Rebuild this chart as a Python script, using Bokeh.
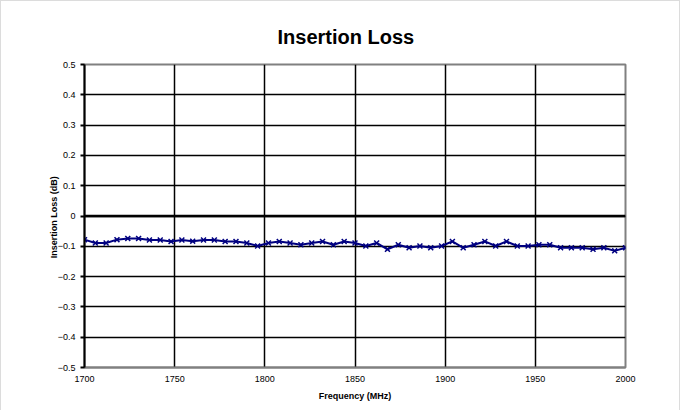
from bokeh.plotting import figure
from bokeh.models import Range1d, FixedTicker, Span
from bokeh.embed import file_html
from bokeh.resources import INLINE

freq_mhz = [1700, 1706, 1712, 1718, 1724, 1730, 1736, 1742, 1748, 1754,
            1760, 1766, 1772, 1778, 1784, 1790, 1796, 1802, 1808, 1814,
            1820, 1826, 1832, 1838, 1844, 1850, 1856, 1862, 1868, 1874,
            1880, 1886, 1892, 1898, 1904, 1910, 1916, 1922, 1928, 1934,
            1940, 1946, 1952, 1958, 1964, 1970, 1976, 1982, 1988, 1994, 2000]
insertion_loss_db = [-0.078, -0.089, -0.089, -0.078, -0.074, -0.074, -0.079, -0.079, -0.084, -0.079,
                     -0.083, -0.079, -0.079, -0.084, -0.084, -0.089, -0.099, -0.089, -0.084, -0.089,
                     -0.095, -0.089, -0.084, -0.095, -0.084, -0.089, -0.099, -0.089, -0.110, -0.095,
                     -0.105, -0.099, -0.105, -0.099, -0.084, -0.105, -0.095, -0.084, -0.099, -0.084,
                     -0.099, -0.099, -0.095, -0.095, -0.105, -0.105, -0.105, -0.110, -0.105, -0.115, -0.105]
x_ticks = [1700, 1750, 1800, 1850, 1900, 1950, 2000]
y_ticks = [-0.5, -0.4, -0.3, -0.2, -0.1, 0, 0.1, 0.2, 0.3, 0.4, 0.5]
title_text = "Insertion Loss"

FONT = "Liberation Sans"

p = figure(width=680, height=410, output_backend="svg", toolbar_location=None,
           x_range=Range1d(1700, 2000), y_range=Range1d(-0.5, 0.5),
           min_border_left=83, min_border_right=56, min_border_top=63, min_border_bottom=44,
           title=title_text)
p.styles = {"border-left": "1px solid #dcdcdc", "border-top": "1px solid #dcdcdc",
            "border-right": "1px solid #dcdcdc"}

p.title.align = "left"
p.title.offset = 193
p.title.text_font = FONT
p.title.text_font_size = "20px"
p.title.text_font_style = "bold"
p.title.text_color = "#000000"
p.title.standoff = 34

p.outline_line_color = "#808080"
p.outline_line_width = 2

p.xgrid.ticker = FixedTicker(ticks=x_ticks)
p.ygrid.ticker = FixedTicker(ticks=y_ticks)
for g in (p.xgrid, p.ygrid):
    g.grid_line_color = "#000000"
    g.grid_line_width = 1.5

p.xaxis.ticker = FixedTicker(ticks=x_ticks)
p.yaxis.ticker = FixedTicker(ticks=y_ticks)
p.xaxis.axis_line_color = "#808080"
p.xaxis.axis_line_width = 2
p.xaxis.major_tick_line_color = None
p.xaxis.minor_tick_line_color = None
p.xaxis.major_label_standoff = 2
p.yaxis.axis_line_color = "#000000"
p.yaxis.axis_line_width = 2
p.yaxis.major_tick_line_color = "#000000"
p.yaxis.major_tick_line_width = 2
p.yaxis.major_tick_out = 4
p.yaxis.major_tick_in = 0
p.yaxis.minor_tick_line_color = None
p.yaxis.major_label_standoff = 5

for ax in (p.xaxis, p.yaxis):
    ax.major_label_text_font = FONT
    ax.major_label_text_font_size = "9px"
    ax.major_label_text_color = "#000000"
    ax.axis_label_text_font = FONT
    ax.axis_label_text_font_size = "9px"
    ax.axis_label_text_font_style = "bold"
    ax.axis_label_text_color = "#000000"

p.xaxis.axis_label = "Frequency (MHz)"
p.yaxis.axis_label = "Insertion Loss  (dB)"
p.xaxis.axis_label_standoff = 6
p.yaxis.axis_label_standoff = -4

p.add_layout(Span(location=0, dimension="width", line_color="#000000", line_width=2.5))

p.line(freq_mhz, insertion_loss_db, line_color="#000080", line_width=2)
p.scatter(freq_mhz, insertion_loss_db, marker="x", size=7, line_color="#000080", line_width=1.5)

open("out.html", "w").write(file_html(p, INLINE))
